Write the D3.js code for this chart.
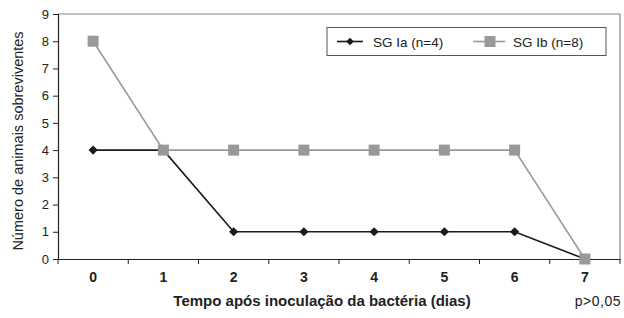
<!DOCTYPE html>
<html>
<head>
<meta charset="utf-8">
<script src="https://cdn.jsdelivr.net/npm/d3@7/dist/d3.min.js"></script>
<style>
  body { margin: 0; background: #fff; }
  svg { display: block; font-family: "Liberation Sans", Arial, sans-serif; }
</style>
</head>
<body>
<svg id="chart" width="624" height="318"></svg>
<script>
// data
const days = [0, 1, 2, 3, 4, 5, 6, 7];
const sgIa = [4, 4, 1, 1, 1, 1, 1, 0];
const sgIb = [8, 4, 4, 4, 4, 4, 4, 0];
const yTicks = [0, 1, 2, 3, 4, 5, 6, 7, 8, 9];
const seriesNames = ["SG Ia (n=4)", "SG Ib (n=8)"];

const plotL = 58, plotR = 620, plotT = 14, plotB = 259;
const svg = d3.select("#chart");

const x = d3.scaleBand().domain(days).range([plotL, plotR]);
const y = d3.scaleLinear().domain([0, 9]).range([plotB, plotT]);
const cx = (d) => x(d) + x.bandwidth() / 2;

// frame: top and right in gray
svg.append("path")
  .attr("d", `M${plotL},${plotT}H${plotR}V${plotB}`)
  .attr("fill", "none")
  .attr("stroke", "#888")
  .attr("stroke-width", 1.2);

// y axis
const yAxis = svg.append("g")
  .attr("transform", `translate(${plotL},0)`)
  .call(d3.axisLeft(y).tickValues(yTicks).tickSize(5).tickPadding(4));
yAxis.selectAll("text").style("font-size", "13px").attr("fill", "#222");

// x axis: ticks at band boundaries
const xAxis = svg.append("g")
  .attr("transform", `translate(0,${plotB})`)
  .call(d3.axisBottom(x).tickSize(0).tickPadding(13));
xAxis.selectAll("text")
  .style("font-size", "14px").style("font-weight", "bold").attr("fill", "#222");
const edges = days.map((d) => x(d)).concat([plotR]);
xAxis.selectAll("line.edge").data(edges).enter().append("line")
  .attr("class", "edge")
  .attr("x1", (d) => d).attr("x2", (d) => d)
  .attr("y1", 0).attr("y2", 5)
  .attr("stroke", "#222");

svg.selectAll(".domain").attr("stroke", "#222").attr("stroke-width", 1.2);
svg.selectAll(".tick line").attr("stroke", "#222");

const line = d3.line().x((d, i) => cx(days[i])).y((d) => y(d));

// SG Ia (black, diamonds)
svg.append("path").datum(sgIa)
  .attr("d", line).attr("fill", "none")
  .attr("stroke", "#1a1a1a").attr("stroke-width", 1.6);
svg.selectAll("path.dia").data(sgIa).enter().append("path")
  .attr("class", "dia")
  .attr("transform", (d, i) => `translate(${cx(days[i])},${y(d)}) rotate(45)`)
  .attr("d", d3.symbol(d3.symbolSquare, 42)())
  .attr("fill", "#1a1a1a");

// SG Ib (gray, squares)
svg.append("path").datum(sgIb)
  .attr("d", line).attr("fill", "none")
  .attr("stroke", "#9a9a9a").attr("stroke-width", 1.6);
svg.selectAll("rect.sq").data(sgIb).enter().append("rect")
  .attr("class", "sq")
  .attr("x", (d, i) => cx(days[i]) - 5.5)
  .attr("y", (d) => y(d) - 5.5)
  .attr("width", 11).attr("height", 11)
  .attr("fill", "#999");

// legend
const lg = svg.append("g");
lg.append("rect")
  .attr("x", 327).attr("y", 27.5).attr("width", 279).attr("height", 28)
  .attr("fill", "#fff").attr("stroke", "#555").attr("stroke-width", 1);
lg.append("line").attr("x1", 337).attr("x2", 363).attr("y1", 41.5).attr("y2", 41.5)
  .attr("stroke", "#1a1a1a").attr("stroke-width", 1.6);
lg.append("path").attr("transform", "translate(350,41.5) rotate(45)")
  .attr("d", d3.symbol(d3.symbolSquare, 30)()).attr("fill", "#1a1a1a");
lg.append("line").attr("x1", 473).attr("x2", 505).attr("y1", 41.5).attr("y2", 41.5)
  .attr("stroke", "#9a9a9a").attr("stroke-width", 1.6);
lg.append("rect").attr("x", 484.5).attr("y", 36).attr("width", 11).attr("height", 11)
  .attr("fill", "#999");
lg.selectAll("text").data(seriesNames).enter().append("text")
  .attr("x", (d, i) => i === 0 ? 373 : 513)
  .attr("y", 46.5)
  .style("font-size", "13.5px").attr("fill", "#222")
  .text((d) => d);

// axis titles
svg.append("text")
  .attr("transform", "translate(23,141) rotate(-90)")
  .attr("text-anchor", "middle")
  .style("font-size", "14.5px").attr("fill", "#222")
  .text("Número de animais sobreviventes");
svg.append("text")
  .attr("x", 322).attr("y", 306)
  .attr("text-anchor", "middle")
  .style("font-size", "15px").style("font-weight", "bold").attr("fill", "#222")
  .text("Tempo após inoculação da bactéria (dias)");
svg.append("text")
  .attr("x", 621).attr("y", 306)
  .attr("text-anchor", "end")
  .style("font-size", "14px").style("letter-spacing", "0.5px").attr("fill", "#222")
  .text("p>0,05");
</script>
</body>
</html>
